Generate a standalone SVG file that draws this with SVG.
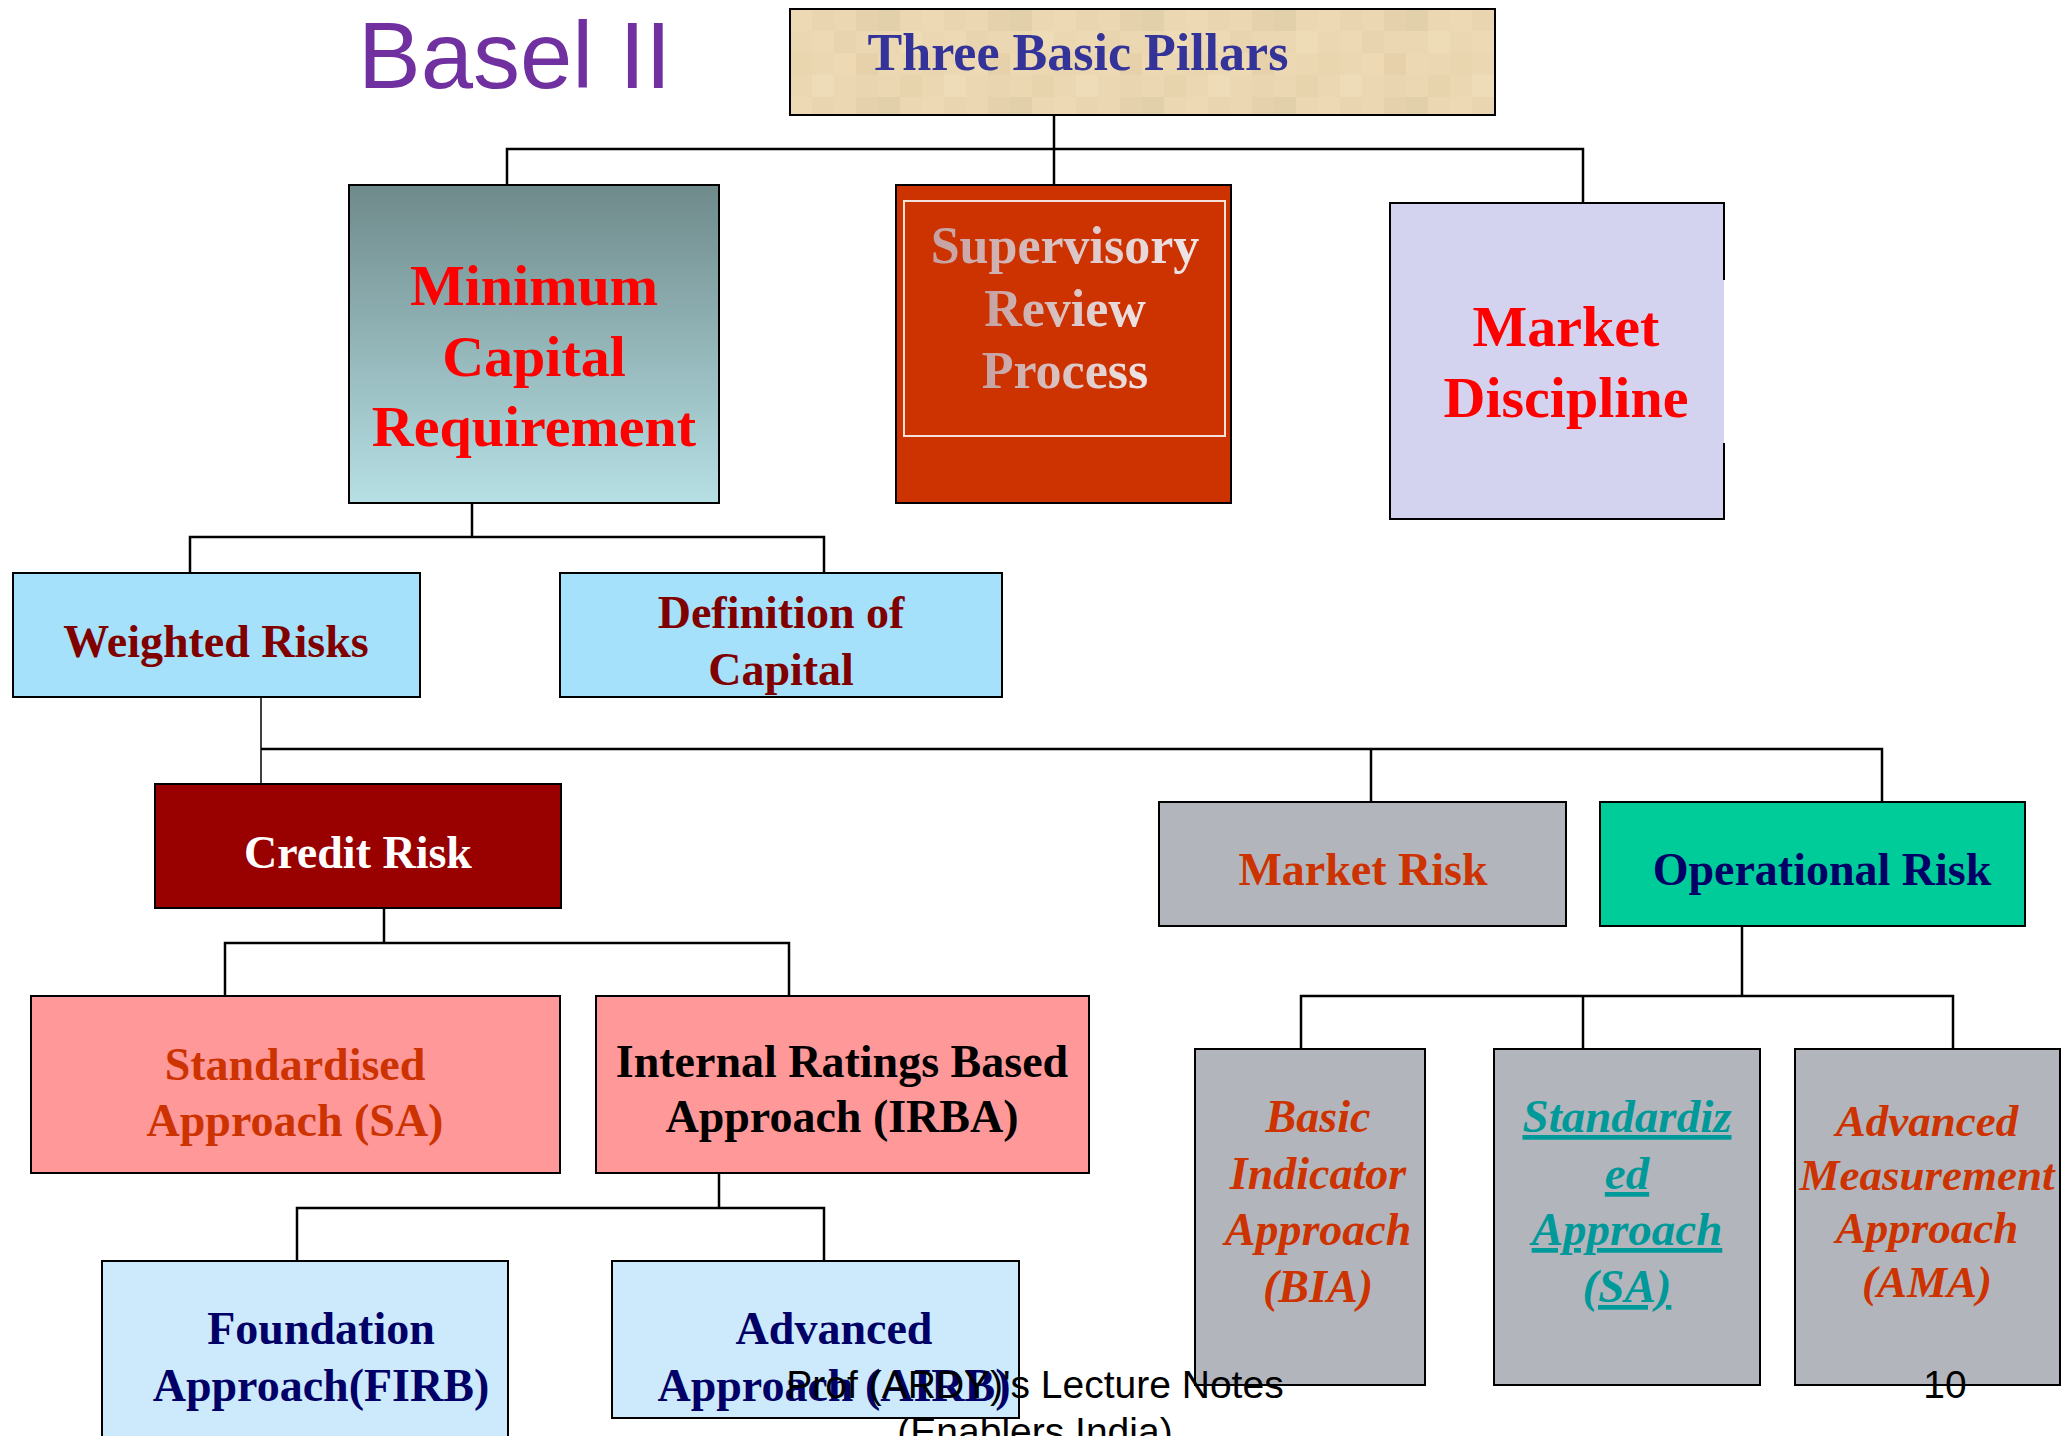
<svg xmlns="http://www.w3.org/2000/svg" width="2071" height="1436" viewBox="0 0 2071 1436">
  <style>
    .box { stroke: #000; stroke-width: 2; }
    .t { font-family: "Liberation Serif", "Times New Roman", serif; font-weight: bold; text-anchor: middle; }
    .ti { font-family: "Liberation Serif", "Times New Roman", serif; font-weight: bold; font-style: italic; text-anchor: middle; }
    .s46 { font-size: 46px; }
    .s52 { font-size: 52px; }
    .s58 { font-size: 58px; }
    .red { fill: #ff0000; }
    .orange { fill: #cc3300; }
    .navy { fill: #000066; }
    .maroon { fill: #800000; }
    .teal { fill: #009999; text-decoration: underline; text-decoration-thickness: 4px; text-underline-offset: 5px; }
    .sans { font-family: "Liberation Sans", Arial, sans-serif; }
    .conn path { fill: none; stroke: #000; stroke-width: 2.5; }
    .conn path.thin { stroke-width: 1.5; }
    .gray { fill: #b3b5bc; }
  </style>
  <defs>
    <!-- parchment tiles for the top box -->
    <pattern id="parchment" patternUnits="userSpaceOnUse" x="790" y="9" width="132" height="88">
      <rect x="0" y="0" width="132" height="88" fill="#ebd8b2"/>
      <rect x="0" y="0" width="22" height="22" fill="#eddab4"/>
      <rect x="22" y="0" width="22" height="22" fill="#e9d6b0"/>
      <rect x="66" y="0" width="22" height="22" fill="#e5d2ad"/>
      <rect x="88" y="0" width="22" height="22" fill="#e2d0ab"/>
      <rect x="22" y="22" width="22" height="22" fill="#edd9b3"/>
      <rect x="44" y="22" width="22" height="22" fill="#e8d4ae"/>
      <rect x="110" y="22" width="22" height="22" fill="#eedcb7"/>
      <rect x="0" y="44" width="22" height="22" fill="#e9d5ae"/>
      <rect x="44" y="44" width="22" height="22" fill="#eddab5"/>
      <rect x="66" y="44" width="22" height="22" fill="#e6d1aa"/>
      <rect x="88" y="44" width="22" height="22" fill="#ecd9b3"/>
      <rect x="22" y="66" width="22" height="22" fill="#eedcb8"/>
      <rect x="66" y="66" width="22" height="22" fill="#e9d5af"/>
      <rect x="110" y="66" width="22" height="22" fill="#e7d3ac"/>
    </pattern>
    <linearGradient id="tealFade" x1="0" y1="0" x2="0" y2="1">
      <stop offset="0" stop-color="#6f8a8b"/>
      <stop offset="1" stop-color="#b6e0e5"/>
    </linearGradient>
    <linearGradient id="pinkText" x1="0" y1="0" x2="1" y2="0">
      <stop offset="0" stop-color="#c6a0a0"/>
      <stop offset="1" stop-color="#efe6e8"/>
    </linearGradient>
  </defs>

  <rect width="2071" height="1436" fill="#fff"/>

  <!-- title -->
  <text x="358" y="88" class="sans" font-size="94" fill="#7030a0">Basel II</text>

  <!-- connectors -->
  <g id="connectors" class="conn">
    <path d="M1054 115 V185"/>
    <path d="M507 185 V149 H1583 V203"/>
    <path d="M472 503 V537"/>
    <path d="M190 573 V537 H824 V573"/>
    <path class="thin" d="M261 697 V784"/>
    <path d="M261 749 H1882 V802"/>
    <path d="M1371 749 V802"/>
    <path d="M384 908 V943"/>
    <path d="M225 996 V943 H789 V996"/>
    <path d="M719 1173 V1208"/>
    <path d="M297 1261 V1208 H824 V1261"/>
    <path d="M1742 926 V996"/>
    <path d="M1301 1049 V996 H1953 V1049"/>
    <path d="M1583 996 V1049"/>
  </g>

  <g id="pillars">
    <rect class="box" x="790" y="9" width="705" height="106" fill="url(#parchment)"/>
    <text x="1078" y="70" class="t s52" fill="#333399">Three Basic Pillars</text>
  </g>

  <g id="min-capital">
    <rect class="box" x="349" y="185" width="370" height="318" fill="url(#tealFade)"/>
    <text x="534" y="305" class="t s58 red">Minimum</text>
    <text x="534" y="376" class="t s58 red">Capital</text>
    <text x="534" y="446" class="t s58 red">Requirement</text>
  </g>

  <g id="supervisory">
    <rect class="box" x="896" y="185" width="335" height="318" fill="#cc3300"/>
    <rect x="904" y="201" width="321" height="235" fill="none" stroke="#f4e2da" stroke-width="2"/>
    <text x="1065" y="263" class="t s52" fill="url(#pinkText)">Supervisory</text>
    <text x="1065" y="326" class="t s52" fill="url(#pinkText)">Review</text>
    <text x="1065" y="388" class="t s52" fill="url(#pinkText)">Process</text>
  </g>

  <g id="market-discipline">
    <rect x="1390" y="203" width="334" height="316" fill="#d3d3f0"/>
    <path d="M1724 280 V203 H1390 V519 H1724 V443" fill="none" stroke="#000" stroke-width="2"/>
    <text x="1566" y="346" class="t s58 red">Market</text>
    <text x="1566" y="417" class="t s58 red">Discipline</text>
  </g>

  <g id="weighted-risks">
    <rect class="box" x="13" y="573" width="407" height="124" fill="#a6e1fc"/>
    <text x="216" y="657" class="t s46 maroon">Weighted Risks</text>
  </g>

  <g id="definition-capital">
    <rect class="box" x="560" y="573" width="442" height="124" fill="#a6e1fc"/>
    <text x="781" y="628" class="t s46 maroon">Definition of</text>
    <text x="781" y="685" class="t s46 maroon">Capital</text>
  </g>

  <g id="credit-risk">
    <rect class="box" x="155" y="784" width="406" height="124" fill="#990000"/>
    <text x="358" y="868" class="t s46" fill="#fff">Credit Risk</text>
  </g>

  <g id="market-risk">
    <rect class="box gray" x="1159" y="802" width="407" height="124"/>
    <text x="1363" y="885" class="t s46 orange">Market Risk</text>
  </g>

  <g id="operational-risk">
    <rect class="box" x="1600" y="802" width="425" height="124" fill="#00cc99"/>
    <text x="1822" y="885" class="t s46 navy">Operational Risk</text>
  </g>

  <g id="standardised">
    <rect class="box" x="31" y="996" width="529" height="177" fill="#ff9999"/>
    <text x="295" y="1080" class="t s46 orange">Standardised</text>
    <text x="295" y="1136" class="t s46 orange">Approach (SA)</text>
  </g>

  <g id="irba">
    <rect class="box" x="596" y="996" width="493" height="177" fill="#ff9999"/>
    <text x="842" y="1077" class="t s46" fill="#000">Internal Ratings Based</text>
    <text x="842" y="1132" class="t s46" fill="#000">Approach (IRBA)</text>
  </g>

  <g id="foundation">
    <rect class="box" x="102" y="1261" width="406" height="200" fill="#cceafc"/>
    <text x="321" y="1344" class="t s46 navy">Foundation</text>
    <text x="321" y="1401" class="t s46 navy">Approach(FIRB)</text>
  </g>

  <g id="advanced-irb">
    <rect class="box" x="612" y="1261" width="407" height="157" fill="#cceafc"/>
    <text x="834" y="1344" class="t s46 navy">Advanced</text>
    <text x="834" y="1401" class="t s46 navy">Approach (AIRB)</text>
  </g>

  <g id="bia">
    <rect class="box gray" x="1195" y="1049" width="230" height="336"/>
    <text x="1318" y="1132" class="ti s46 orange">Basic</text>
    <text x="1318" y="1189" class="ti s46 orange">Indicator</text>
    <text x="1318" y="1245" class="ti s46 orange">Approach</text>
    <text x="1318" y="1302" class="ti s46 orange">(BIA)</text>
  </g>

  <g id="standardized-op">
    <rect class="box gray" x="1494" y="1049" width="266" height="336"/>
    <text x="1627" y="1132" class="ti teal" font-size="47">Standardiz</text>
    <text x="1627" y="1189" class="ti teal" font-size="47">ed</text>
    <text x="1627" y="1245" class="ti teal" font-size="47">Approach</text>
    <text x="1627" y="1302" class="ti teal" font-size="47">(SA)</text>
  </g>

  <g id="ama">
    <rect class="box gray" x="1795" y="1049" width="265" height="336"/>
    <text x="1927" y="1136" class="ti orange" font-size="45">Advanced</text>
    <text x="1927" y="1190" class="ti orange" font-size="45">Measurement</text>
    <text x="1927" y="1243" class="ti orange" font-size="45">Approach</text>
    <text x="1927" y="1297" class="ti orange" font-size="45">(AMA)</text>
  </g>

  <!-- footer -->
  <g class="sans" font-size="39" fill="#000">
    <text x="1035" y="1398" text-anchor="middle">Prof (ARDY)'s Lecture Notes</text>
    <text x="1035" y="1445" text-anchor="middle">(Enablers India)</text>
    <text x="1945" y="1398" text-anchor="middle">10</text>
  </g>
</svg>
